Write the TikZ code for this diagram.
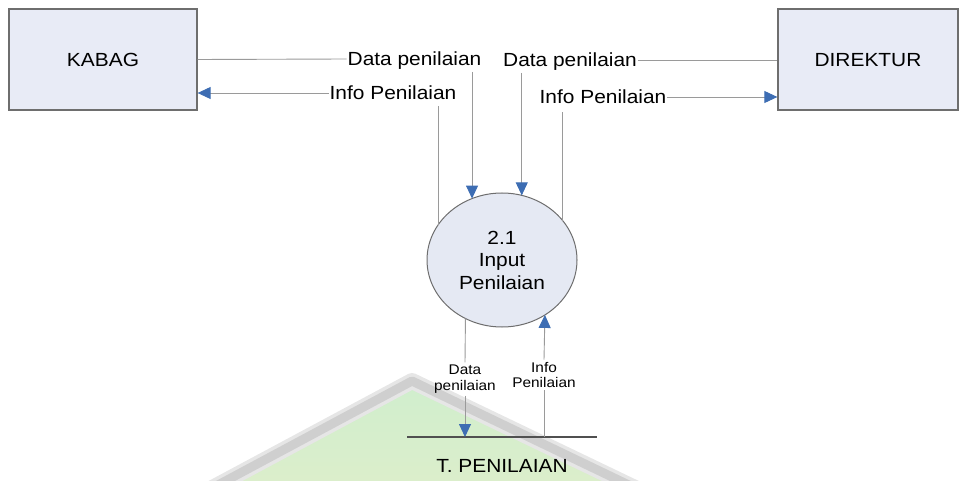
\documentclass[tikz,border=0pt]{standalone}
\usepackage{fontspec}
\setmainfont{Liberation Sans}[FakeStretch=1.1]
\usetikzlibrary{arrows.meta,shapes.geometric,calc}

\definecolor{boxfill}{HTML}{E8EBF6}
\definecolor{boxedge}{HTML}{6E6E6E}
\definecolor{procfill}{HTML}{E5E9F3}
\definecolor{linegray}{HTML}{9A9A9A}
\definecolor{arrowblue}{HTML}{3D6DB3}
\definecolor{storeedge}{HTML}{505050}
\definecolor{wmgreen}{HTML}{D0EECD}
\definecolor{wmgray}{HTML}{CFCFCF}
\definecolor{wmgraysoft}{HTML}{E6E6E6}
\definecolor{wmyellow}{HTML}{EEEDC8}

\tikzset{
  entity/.style={draw=boxedge, line width=1.3pt, fill=boxfill, minimum width=188pt,
    minimum height=101pt, inner sep=0pt, font=\fontsize{19}{22}\selectfont,
    text height=13.6pt, text depth=0pt},
  process/.style={ellipse, draw=boxedge, line width=1pt, fill=procfill,
    minimum width=150pt, minimum height=134pt, inner sep=0pt, outer sep=0pt,
    align=center, font=\fontsize{19}{22.5}\selectfont},
  flowlabel/.style={inner sep=0pt, outer sep=1pt, font=\fontsize{19}{22}\selectfont,
    text height=13.6pt, text depth=0pt},
  smalllabel/.style={inner sep=0pt, outer sep=2.5pt, align=center,
    font=\fontsize{14}{15.5}\selectfont},
  conn/.style={draw=linegray, line width=0.9pt},
  flow/.style={conn, -{Triangle[length=13pt,width=12pt,color=arrowblue]}},
  storeline/.style={draw=storeedge, line width=1.4pt}
}

\begin{document}
\begin{tikzpicture}[x=1pt, y=-1pt]
  \useasboundingbox (0,0) rectangle (961,481);

  % faint emblem printed behind the lower part of the page
  \begin{scope}
    \clip (0,0) rectangle (961,481);
    \shade[top color=wmgreen, bottom color=wmgreen!55!wmyellow]
      (412,384) -- (650,500) -- (180,500) -- cycle;
    \draw[wmgraysoft, line width=16pt, line join=round] (190,500) -- (412,381) -- (660,500);
    \draw[wmgray, line width=9pt, line join=round] (190,500) -- (412,381) -- (660,500);
  \end{scope}

  % external entities
  \node[entity] (kabag) at (103,59.5) {KABAG};
  \node[entity, minimum width=180pt] (direktur) at (868,59.5) {DIREKTUR};

  % process
  \node[process] (proc) at (502,260) {2.1\\Input\\Penilaian};

  % data store
  \coordinate (storeL) at (407,437);
  \coordinate (storeR) at (597,437);
  \draw[storeline] (storeL) -- (storeR);
  \node[flowlabel] (store) at (502,465.5) {T. PENILAIAN};

  % flow labels
  \node[flowlabel] (dataK) at (414.5,59) {Data penilaian};
  \node[flowlabel] (infoK) at (393,93) {Info Penilaian};
  \node[flowlabel] (dataD) at (570,60) {Data penilaian};
  \node[flowlabel] (infoD) at (603,97) {Info Penilaian};
  \node[smalllabel] (dataS) at (465,379) {Data\\penilaian};
  \node[smalllabel] (infoS) at (544,375) {Info\\Penilaian};

  % KABAG <-> process
  \draw[conn] (kabag.east) -- (dataK.west);
  \draw[flow, shorten <=5pt] (proc.116 |- dataK.south) -- (proc.116);
  \draw[conn, shorten >=5pt] (proc.151.4) -- (proc.151.4 |- infoK.south);
  \draw[flow] (infoK.west) -- (kabag.east |- infoK.west);

  % DIREKTUR <-> process
  \draw[conn] (dataD.east) -- (direktur.west |- dataD.east);
  \draw[flow, shorten <=5pt] (proc.73.66 |- dataD.south) -- (proc.73.66);
  \draw[conn, shorten >=7pt] (proc.33.8) -- (proc.33.8 |- infoD.south);
  \draw[flow] (infoD.east) -- (direktur.west |- infoD.east);

  % process <-> data store
  \draw[conn] (proc.-122.4) -- (dataS.north);
  \draw[flow] (dataS.south) -- (dataS.south |- storeL);
  \draw[conn] (infoS.south |- storeL) -- (infoS.south);
  \draw[flow] (infoS.north) -- (proc.-52.9);
\end{tikzpicture}
\end{document}
